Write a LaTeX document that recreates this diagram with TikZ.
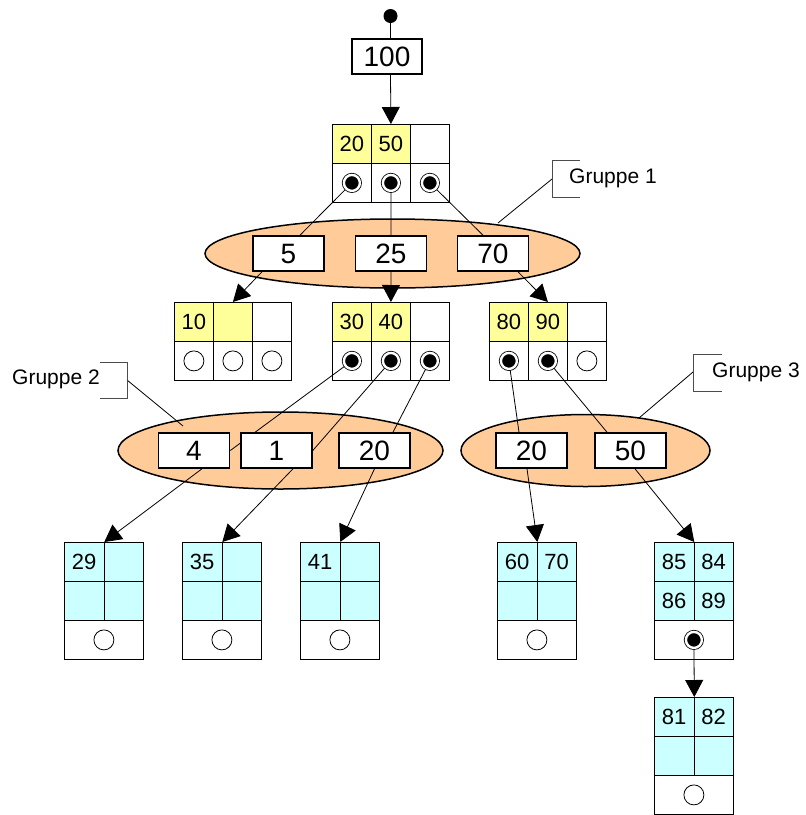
\documentclass[tikz,border=0pt]{standalone}
\usepackage{fontspec}
\setmainfont{Liberation Sans}
\usetikzlibrary{arrows.meta,shapes.geometric,calc}
\definecolor{ylw}{HTML}{FFFF99}
\definecolor{cyn}{HTML}{CCFFFF}
\definecolor{peach}{HTML}{FFCC99}
\pgfdeclarelayer{back}
\pgfdeclarelayer{mid}
\pgfsetlayers{back,mid,main}
\tikzset{
 cell/.style={draw, line width=0.8pt, minimum width=39pt, minimum height=39pt, inner sep=0pt, anchor=north west, font=\fontsize{22}{22}\selectfont},
 lcell/.style={cell, minimum width=39.5pt},
 wcell/.style={cell, minimum width=79pt},
 keybox/.style={draw, line width=1.6pt, fill=white, minimum width=71pt, minimum height=35pt, inner sep=0pt, font=\fontsize{28}{28}\selectfont},
 grp/.style={ellipse, draw, line width=1.5pt, fill=peach, inner sep=0pt},
 pfull/.style={circle, draw=black, line width=0.8pt, double=white, double distance=2.4pt, fill=black, minimum size=16pt, inner sep=0pt},
 pempty/.style={circle, draw, line width=0.8pt, fill=white, minimum size=20pt, inner sep=0pt},
 link/.style={line width=0.8pt},
 arr/.style={line width=0.8pt, -{Triangle[length=17pt,width=18pt]}},
 lbl/.style={font=\fontsize{21}{21}\selectfont, inner sep=0pt, anchor=west},
 brk/.style={line width=0.8pt, draw=black!70},
}
% internal node: name, x, y, key1, key2, fill of key2, pointer styles
\newcommand\tnode[9]{%
 \node[cell,fill=ylw] (#1k1) at (#2,#3) {#4};
 \node[cell,fill=#6] (#1k2) at (#2+39,#3) {#5};
 \node[cell,fill=white] (#1k3) at (#2+78,#3) {};
 \node[cell] (#1p1) at (#2,#3+39) {};
 \node[cell] (#1p2) at (#2+39,#3+39) {};
 \node[cell] (#1p3) at (#2+78,#3+39) {};
 \node[#7] (#1c1) at (#1p1.center) {};
 \node[#8] (#1c2) at (#1p2.center) {};
 \node[#9] (#1c3) at (#1p3.center) {};
}
% leaf: name, x, y, four keys, pointer style
\newcommand\leafnode[8]{%
 \node[lcell,fill=cyn] (#1k1) at (#2,#3) {#4};
 \node[lcell,fill=cyn] (#1k2) at (#2+39.5,#3) {#5};
 \node[lcell,fill=cyn] (#1k3) at (#2,#3+39) {#6};
 \node[lcell,fill=cyn] (#1k4) at (#2+39.5,#3+39) {#7};
 \node[wcell] (#1p) at (#2,#3+78) {};
 \node[#8] (#1c) at (#1p.center) {};
}
\begin{document}
\begin{tikzpicture}[x=1pt,y=-1pt]
\useasboundingbox (0,0) rectangle (806,815);
% group ellipses
\begin{pgfonlayer}{back}
\node[grp, minimum width=375pt, minimum height=69pt] (e1) at (392.5,253.5) {};
\node[grp, minimum width=325pt, minimum height=77pt] (e2) at (280.5,450.5) {};
\node[grp, minimum width=249pt, minimum height=72pt] (e3) at (585.5,450.5) {};
\end{pgfonlayer}
% top
\node[circle, fill, minimum size=14pt, inner sep=0pt] (top) at (390.5,16) {};
\node[keybox, minimum width=70pt] (b100) at (387,56.5) {100};
% tree nodes
\tnode{r}{332}{124}{20}{50}{ylw}{pfull}{pfull}{pfull}
\tnode{a}{174}{302}{10}{}{ylw}{pempty}{pempty}{pempty}
\tnode{b}{332}{302}{30}{40}{ylw}{pfull}{pfull}{pfull}
\tnode{c}{489}{302}{80}{90}{ylw}{pfull}{pfull}{pempty}
% group boxes
\node[keybox] (b5) at (288.5,253.5) {5};
\node[keybox] (b25) at (391,253.5) {25};
\node[keybox] (b70) at (493,253.5) {70};
\node[keybox] (b4) at (194,450.5) {4};
\node[keybox] (b1) at (276.5,450.5) {1};
\node[keybox] (b20a) at (374.5,450.5) {20};
\node[keybox] (b20b) at (531.5,450.5) {20};
\node[keybox] (b50) at (630.5,450.5) {50};
% leaves
\leafnode{la}{64}{542}{29}{}{}{}{pempty}
\leafnode{lb}{182}{542}{35}{}{}{}{pempty}
\leafnode{lc}{300}{542}{41}{}{}{}{pempty}
\leafnode{ld}{497}{542}{60}{70}{}{}{pempty}
\leafnode{le}{654}{542}{85}{84}{86}{89}{pfull}
\leafnode{lf}{654}{697}{81}{82}{}{}{pempty}
% group labels
\node[lbl] (g1) at (569,178) {Gruppe 1};
\node[lbl] (g2) at (12,379) {Gruppe 2};
\node[lbl] (g3) at (712,372) {Gruppe 3};
\coordinate (g1a) at (552,179);
\coordinate (g1e) at (498,223);
\coordinate (g2a) at (127,380);
\coordinate (g2e) at (183,426);
\coordinate (g3a) at (693,372);
\coordinate (g3e) at (639,418);
% connectors
\begin{pgfonlayer}{mid}
\draw[link] (top) -- (top |- b100.north);
\draw[arr] (b100.south -| top) -- (rk2.north);
\draw[link] (rc1.center) -- ([xshift=11.5pt]b5.north);
\draw[link] (rc2.center) -- (b25.north);
\draw[link] (rc3.center) -- ([xshift=-10pt]b70.north);
\draw[arr] ([xshift=-26.5pt]b5.south) -- (ak2.north);
\draw[arr] (b25.south) -- (bk2.north);
\draw[arr] ([xshift=25pt]b70.south) -- (ck2.north);
\draw[link] (bc1.center) -- (b4.east);
\draw[link] (bc2.center) -- (b1.east);
\draw[link] (bc3.center) -- ([xshift=18.5pt]b20a.north);
\draw[arr] ([xshift=8pt]b4.south) -- (lak1.north east);
\draw[arr] ([xshift=16.5pt]b1.south) -- (lbk1.north east);
\draw[arr] (b20a.south) -- (lck1.north east);
\draw[link] (cc1.center) -- ([xshift=-12.5pt]b20b.north);
\draw[link] (cc2.center) -- ([xshift=-23.5pt]b50.north);
\draw[arr] ([xshift=-4.5pt]b20b.south) -- (ldk1.north east);
\draw[arr] ([xshift=4.5pt]b50.south) -- (lek1.north east);
\draw[arr] (lec.center) -- (lfk1.north east);
\draw[link] (g1e) -- (g1a);
\draw[link] (g2e) -- (g2a);
\draw[link] (g3e) -- (g3a);
\end{pgfonlayer}
\draw[brk] (580,160) -| (552,197) -- (580,197);
\draw[brk] (100,362) -| (127,398) -- (100,398);
\draw[brk] (722,354) -| (693,391) -- (722,391);
\end{tikzpicture}
\end{document}
